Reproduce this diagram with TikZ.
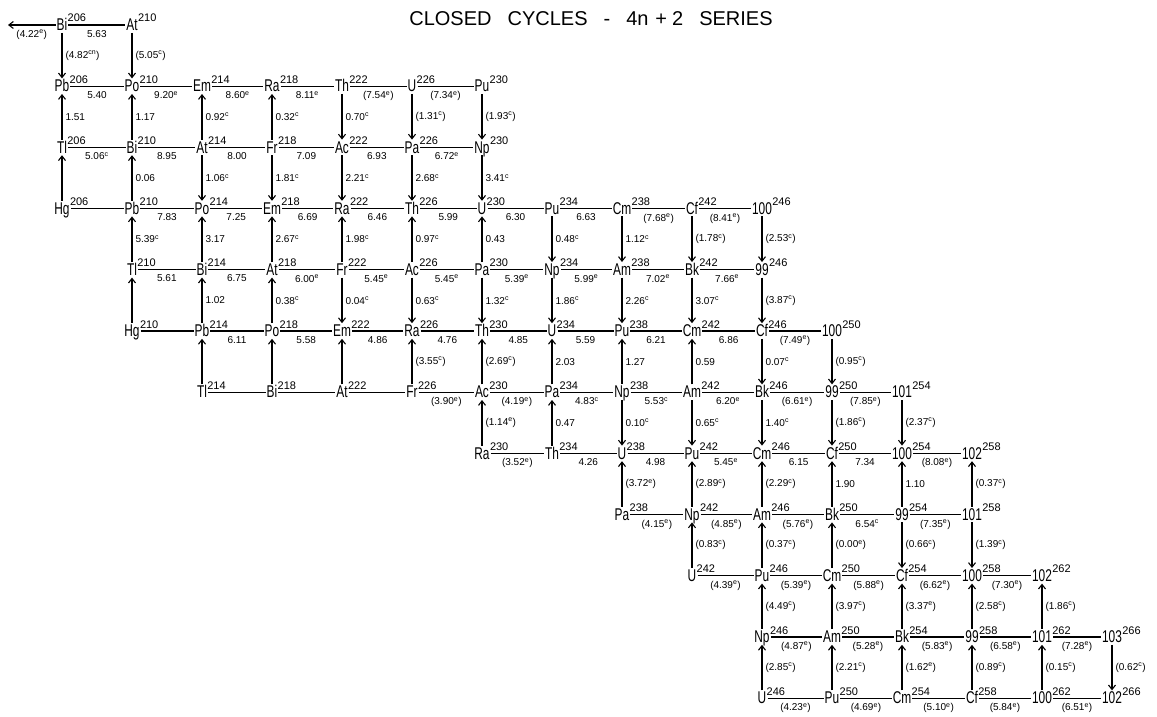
\documentclass[tikz,border=0pt]{standalone}
\usepackage{fontspec}
\setmainfont{Liberation Sans}
\newfontfamily\elfont[FakeStretch=0.7]{Liberation Sans}
\usetikzlibrary{arrows.meta}
\newcommand\supc{\textsuperscript{c}}
\newcommand\supe{\textsuperscript{e}}
\tikzset{
  el/.style={font=\elfont\fontsize{17}{17}\selectfont, inner sep=1pt, text height=12.2pt, text depth=1pt},
  ms/.style={font=\fontsize{11}{11}\selectfont, inner sep=0pt, anchor=base west, xshift=-1pt, yshift=3pt},
  hl/.style={line width=1.1pt},
  vl/.style={line width=1.1pt, -{Straight Barb[length=4.5pt,width=7pt]}},
  hlab/.style={font=\fontsize{10}{10}\selectfont, inner sep=0.5pt, below=4pt},
  vlab/.style={font=\fontsize{10}{10}\selectfont, inner sep=0.5pt, right=2.5pt},
  ttl/.style={font=\fontsize{20}{20}\selectfont, inner sep=0pt}
}
\newcommand\nuc[5]{\node[el] (#1) at ({62+70*#2},{25+61.2*#3}) {#4};\node[ms] (#1m) at (#1.east) {#5};}
\newcommand\alp[3]{\draw[hl] (#1) -- node[hlab]{#3} (#2);}
\newcommand\alpn[2]{\draw[hl] (#1) -- (#2);}
\newcommand\bet[3]{\draw[vl] (#1) -- node[vlab]{#3} (#2);}
\newcommand\betn[2]{\draw[vl] (#1) -- (#2);}
\begin{document}
\begin{tikzpicture}[x=1pt,y=-1pt]
\useasboundingbox[fill=white] (0,0) rectangle (1157,717);
\node[ttl] (title) at (591,19) {CLOSED\hspace{0.8em}CYCLES\hspace{0.8em}-\hspace{0.8em}4n\hspace{0.35em}+\hspace{0.25em}2\hspace{0.8em}SERIES};
% row 0
\nuc{Bi206}{0}{0}{Bi}{206}
\nuc{At210}{1}{0}{At}{210}
% row 1
\nuc{Pb206}{0}{1}{Pb}{206}
\nuc{Po210}{1}{1}{Po}{210}
\nuc{Em214}{2}{1}{Em}{214}
\nuc{Ra218}{3}{1}{Ra}{218}
\nuc{Th222}{4}{1}{Th}{222}
\nuc{U226}{5}{1}{U}{226}
\nuc{Pu230}{6}{1}{Pu}{230}
% row 2
\nuc{Tl206}{0}{2}{Tl}{206}
\nuc{Bi210}{1}{2}{Bi}{210}
\nuc{At214}{2}{2}{At}{214}
\nuc{Fr218}{3}{2}{Fr}{218}
\nuc{Ac222}{4}{2}{Ac}{222}
\nuc{Pa226}{5}{2}{Pa}{226}
\nuc{Np230}{6}{2}{Np}{230}
% row 3
\nuc{Hg206}{0}{3}{Hg}{206}
\nuc{Pb210}{1}{3}{Pb}{210}
\nuc{Po214}{2}{3}{Po}{214}
\nuc{Em218}{3}{3}{Em}{218}
\nuc{Ra222}{4}{3}{Ra}{222}
\nuc{Th226}{5}{3}{Th}{226}
\nuc{U230}{6}{3}{U}{230}
\nuc{Pu234}{7}{3}{Pu}{234}
\nuc{Cm238}{8}{3}{Cm}{238}
\nuc{Cf242}{9}{3}{Cf}{242}
\nuc{Fm246}{10}{3}{100}{246}
% row 4
\nuc{Tl210}{1}{4}{Tl}{210}
\nuc{Bi214}{2}{4}{Bi}{214}
\nuc{At218}{3}{4}{At}{218}
\nuc{Fr222}{4}{4}{Fr}{222}
\nuc{Ac226}{5}{4}{Ac}{226}
\nuc{Pa230}{6}{4}{Pa}{230}
\nuc{Np234}{7}{4}{Np}{234}
\nuc{Am238}{8}{4}{Am}{238}
\nuc{Bk242}{9}{4}{Bk}{242}
\nuc{Es246}{10}{4}{99}{246}
% row 5
\nuc{Hg210}{1}{5}{Hg}{210}
\nuc{Pb214}{2}{5}{Pb}{214}
\nuc{Po218}{3}{5}{Po}{218}
\nuc{Em222}{4}{5}{Em}{222}
\nuc{Ra226}{5}{5}{Ra}{226}
\nuc{Th230}{6}{5}{Th}{230}
\nuc{U234}{7}{5}{U}{234}
\nuc{Pu238}{8}{5}{Pu}{238}
\nuc{Cm242}{9}{5}{Cm}{242}
\nuc{Cf246}{10}{5}{Cf}{246}
\nuc{Fm250}{11}{5}{100}{250}
% row 6
\nuc{Tl214}{2}{6}{Tl}{214}
\nuc{Bi218}{3}{6}{Bi}{218}
\nuc{At222}{4}{6}{At}{222}
\nuc{Fr226}{5}{6}{Fr}{226}
\nuc{Ac230}{6}{6}{Ac}{230}
\nuc{Pa234}{7}{6}{Pa}{234}
\nuc{Np238}{8}{6}{Np}{238}
\nuc{Am242}{9}{6}{Am}{242}
\nuc{Bk246}{10}{6}{Bk}{246}
\nuc{Es250}{11}{6}{99}{250}
\nuc{Md254}{12}{6}{101}{254}
% row 7
\nuc{Ra230}{6}{7}{Ra}{230}
\nuc{Th234}{7}{7}{Th}{234}
\nuc{U238}{8}{7}{U}{238}
\nuc{Pu242}{9}{7}{Pu}{242}
\nuc{Cm246}{10}{7}{Cm}{246}
\nuc{Cf250}{11}{7}{Cf}{250}
\nuc{Fm254}{12}{7}{100}{254}
\nuc{No258}{13}{7}{102}{258}
% row 8
\nuc{Pa238}{8}{8}{Pa}{238}
\nuc{Np242}{9}{8}{Np}{242}
\nuc{Am246}{10}{8}{Am}{246}
\nuc{Bk250}{11}{8}{Bk}{250}
\nuc{Es254}{12}{8}{99}{254}
\nuc{Md258}{13}{8}{101}{258}
% row 9
\nuc{U242}{9}{9}{U}{242}
\nuc{Pu246}{10}{9}{Pu}{246}
\nuc{Cm250}{11}{9}{Cm}{250}
\nuc{Cf254}{12}{9}{Cf}{254}
\nuc{Fm258}{13}{9}{100}{258}
\nuc{No262}{14}{9}{102}{262}
% row 10
\nuc{Np246}{10}{10}{Np}{246}
\nuc{Am250}{11}{10}{Am}{250}
\nuc{Bk254}{12}{10}{Bk}{254}
\nuc{Es258}{13}{10}{99}{258}
\nuc{Md262}{14}{10}{101}{262}
\nuc{Lr266}{15}{10}{103}{266}
% row 11
\nuc{U246}{10}{11}{U}{246}
\nuc{Pu250}{11}{11}{Pu}{250}
\nuc{Cm254}{12}{11}{Cm}{254}
\nuc{Cf258}{13}{11}{Cf}{258}
\nuc{Fm262}{14}{11}{100}{262}
\nuc{No266}{15}{11}{102}{266}
% alpha lines
\coordinate (left) at (8,25);
\draw[vl] (Bi206) -- node[hlab]{(4.22\supe)} (left);
\alp{Bi206}{At210}{5.63}
\alp{Pb206}{Po210}{5.40}
\alp{Po210}{Em214}{9.20\supe}
\alp{Em214}{Ra218}{8.60\supe}
\alp{Ra218}{Th222}{8.11\supe}
\alp{Th222}{U226}{(7.54\supe)}
\alp{U226}{Pu230}{(7.34\supe)}
\alp{Tl206}{Bi210}{5.06\supc}
\alp{Bi210}{At214}{8.95}
\alp{At214}{Fr218}{8.00}
\alp{Fr218}{Ac222}{7.09}
\alp{Ac222}{Pa226}{6.93}
\alp{Pa226}{Np230}{6.72\supe}
\alpn{Hg206}{Pb210}
\alp{Pb210}{Po214}{7.83}
\alp{Po214}{Em218}{7.25}
\alp{Em218}{Ra222}{6.69}
\alp{Ra222}{Th226}{6.46}
\alp{Th226}{U230}{5.99}
\alp{U230}{Pu234}{6.30}
\alp{Pu234}{Cm238}{6.63}
\alp{Cm238}{Cf242}{(7.68\supe)}
\alp{Cf242}{Fm246}{(8.41\supe)}
\alp{Tl210}{Bi214}{5.61}
\alp{Bi214}{At218}{6.75}
\alp{At218}{Fr222}{6.00\supe}
\alp{Fr222}{Ac226}{5.45\supe}
\alp{Ac226}{Pa230}{5.45\supe}
\alp{Pa230}{Np234}{5.39\supe}
\alp{Np234}{Am238}{5.99\supe}
\alp{Am238}{Bk242}{7.02\supe}
\alp{Bk242}{Es246}{7.66\supe}
\alpn{Hg210}{Pb214}
\alp{Pb214}{Po218}{6.11}
\alp{Po218}{Em222}{5.58}
\alp{Em222}{Ra226}{4.86}
\alp{Ra226}{Th230}{4.76}
\alp{Th230}{U234}{4.85}
\alp{U234}{Pu238}{5.59}
\alp{Pu238}{Cm242}{6.21}
\alp{Cm242}{Cf246}{6.86}
\alp{Cf246}{Fm250}{(7.49\supe)}
\alpn{Tl214}{Bi218}
\alpn{Bi218}{At222}
\alpn{At222}{Fr226}
\alp{Fr226}{Ac230}{(3.90\supe)}
\alp{Ac230}{Pa234}{(4.19\supe)}
\alp{Pa234}{Np238}{4.83\supc}
\alp{Np238}{Am242}{5.53\supc}
\alp{Am242}{Bk246}{6.20\supe}
\alp{Bk246}{Es250}{(6.61\supe)}
\alp{Es250}{Md254}{(7.85\supe)}
\alp{Ra230}{Th234}{(3.52\supe)}
\alp{Th234}{U238}{4.26}
\alp{U238}{Pu242}{4.98}
\alp{Pu242}{Cm246}{5.45\supe}
\alp{Cm246}{Cf250}{6.15}
\alp{Cf250}{Fm254}{7.34}
\alp{Fm254}{No258}{(8.08\supe)}
\alp{Pa238}{Np242}{(4.15\supe)}
\alp{Np242}{Am246}{(4.85\supe)}
\alp{Am246}{Bk250}{(5.76\supe)}
\alp{Bk250}{Es254}{6.54\supc}
\alp{Es254}{Md258}{(7.35\supe)}
\alp{U242}{Pu246}{(4.39\supe)}
\alp{Pu246}{Cm250}{(5.39\supe)}
\alp{Cm250}{Cf254}{(5.88\supe)}
\alp{Cf254}{Fm258}{(6.62\supe)}
\alp{Fm258}{No262}{(7.30\supe)}
\alp{Np246}{Am250}{(4.87\supe)}
\alp{Am250}{Bk254}{(5.28\supe)}
\alp{Bk254}{Es258}{(5.83\supe)}
\alp{Es258}{Md262}{(6.58\supe)}
\alp{Md262}{Lr266}{(7.28\supe)}
\alp{U246}{Pu250}{(4.23\supe)}
\alp{Pu250}{Cm254}{(4.69\supe)}
\alp{Cm254}{Cf258}{(5.10\supe)}
\alp{Cf258}{Fm262}{(5.84\supe)}
\alp{Fm262}{No266}{(6.51\supe)}
% beta arrows
\bet{Bi206}{Pb206}{(4.82\textsuperscript{cn})}
\bet{At210}{Po210}{(5.05\supc)}
\bet{Tl206}{Pb206}{1.51}
\bet{Bi210}{Po210}{1.17}
\bet{At214}{Em214}{0.92\supc}
\bet{Fr218}{Ra218}{0.32\supc}
\bet{Th222}{Ac222}{0.70\supc}
\bet{U226}{Pa226}{(1.31\supc)}
\bet{Pu230}{Np230}{(1.93\supc)}
\betn{Hg206}{Tl206}
\bet{Pb210}{Bi210}{0.06}
\bet{At214}{Po214}{1.06\supc}
\bet{Fr218}{Em218}{1.81\supc}
\bet{Ac222}{Ra222}{2.21\supc}
\bet{Pa226}{Th226}{2.68\supc}
\bet{Np230}{U230}{3.41\supc}
\bet{Tl210}{Pb210}{5.39\supc}
\bet{Bi214}{Po214}{3.17}
\bet{At218}{Em218}{2.67\supc}
\bet{Fr222}{Ra222}{1.98\supc}
\bet{Ac226}{Th226}{0.97\supc}
\bet{Pa230}{U230}{0.43}
\bet{Pu234}{Np234}{0.48\supc}
\bet{Cm238}{Am238}{1.12\supc}
\bet{Cf242}{Bk242}{(1.78\supc)}
\bet{Fm246}{Es246}{(2.53\supc)}
\betn{Hg210}{Tl210}
\bet{Pb214}{Bi214}{1.02}
\bet{Po218}{At218}{0.38\supc}
\bet{Fr222}{Em222}{0.04\supc}
\bet{Ac226}{Ra226}{0.63\supc}
\bet{Pa230}{Th230}{1.32\supc}
\bet{Np234}{U234}{1.86\supc}
\bet{Am238}{Pu238}{2.26\supc}
\bet{Bk242}{Cm242}{3.07\supc}
\bet{Es246}{Cf246}{(3.87\supc)}
\betn{Tl214}{Pb214}
\betn{Bi218}{Po218}
\betn{At222}{Em222}
\bet{Fr226}{Ra226}{(3.55\supc)}
\bet{Ac230}{Th230}{(2.69\supc)}
\bet{Pa234}{U234}{2.03}
\bet{Np238}{Pu238}{1.27}
\bet{Am242}{Cm242}{0.59}
\bet{Cf246}{Bk246}{0.07\supc}
\bet{Fm250}{Es250}{(0.95\supc)}
\bet{Ra230}{Ac230}{(1.14\supe)}
\bet{Th234}{Pa234}{0.47}
\bet{Np238}{U238}{0.10\supc}
\bet{Am242}{Pu242}{0.65\supc}
\bet{Bk246}{Cm246}{1.40\supc}
\bet{Es250}{Cf250}{(1.86\supc)}
\bet{Md254}{Fm254}{(2.37\supc)}
\bet{Pa238}{U238}{(3.72\supe)}
\bet{Np242}{Pu242}{(2.89\supc)}
\bet{Am246}{Cm246}{(2.29\supc)}
\bet{Bk250}{Cf250}{1.90}
\bet{Es254}{Fm254}{1.10}
\bet{Md258}{No258}{(0.37\supc)}
\bet{U242}{Np242}{(0.83\supc)}
\bet{Pu246}{Am246}{(0.37\supc)}
\bet{Cm250}{Bk250}{(0.00\supe)}
\bet{Es254}{Cf254}{(0.66\supc)}
\bet{Md258}{Fm258}{(1.39\supc)}
\bet{Np246}{Pu246}{(4.49\supc)}
\bet{Am250}{Cm250}{(3.97\supc)}
\bet{Bk254}{Cf254}{(3.37\supe)}
\bet{Es258}{Fm258}{(2.58\supc)}
\bet{Md262}{No262}{(1.86\supc)}
\bet{U246}{Np246}{(2.85\supc)}
\bet{Pu250}{Am250}{(2.21\supc)}
\bet{Cm254}{Bk254}{(1.62\supe)}
\bet{Cf258}{Es258}{(0.89\supc)}
\bet{Fm262}{Md262}{(0.15\supc)}
\bet{Lr266}{No266}{(0.62\supc)}
\end{tikzpicture}
\end{document}
